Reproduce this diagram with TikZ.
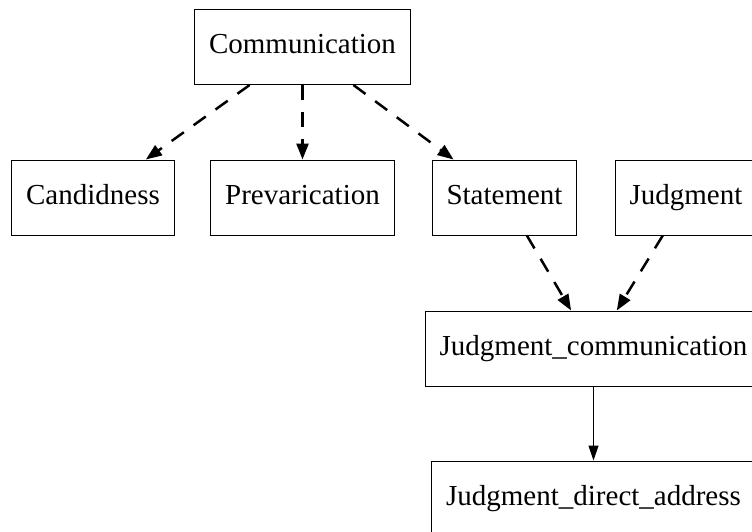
\documentclass[tikz,border=0pt]{standalone}
\usepackage{fontspec}
\setmainfont{Liberation Serif}
\usetikzlibrary{arrows.meta}
\begin{document}
\begin{tikzpicture}[x=1pt, y=-1pt, font=\fontsize{29}{34}\selectfont,
  frame/.style = {draw, rectangle, line width=1pt, inner xsep=14.5pt, text height=20pt, text depth=7pt, minimum height=75pt},
  link/.style = {line width=2.5pt, dash pattern=on 15pt off 12pt, -{Triangle[length=16pt, width=12pt]}},
  plain/.style = {line width=1.2pt, -{Triangle[length=15pt, width=10pt]}}]
\useasboundingbox (0,0) rectangle (752,531);
\clip (0,0) rectangle (752,531);
\node[frame] (comm) at (302.5,47) {Communication};
\node[frame] (cand) at (93,197.5) {Candidness};
\node[frame] (prev) at (302.5,197.5) {Prevarication};
\node[frame] (stmt) at (504.5,197.5) {Statement};
\node[frame] (judg) at (686,197.5) {Judgment};
\node[frame] (jcomm) at (593.5,348.5) {Judgment\_communication};
\node[frame] (jdaddr) at (593.5,498.5) {Judgment\_direct\_address};
\draw[link] (comm) -- (cand);
\draw[link] (comm) -- (prev);
\draw[link] (comm) -- (stmt);
\draw[link] (stmt) -- (jcomm);
\draw[link] (judg) -- (jcomm);
\draw[plain] (jcomm) -- (jdaddr);
\end{tikzpicture}
\end{document}
